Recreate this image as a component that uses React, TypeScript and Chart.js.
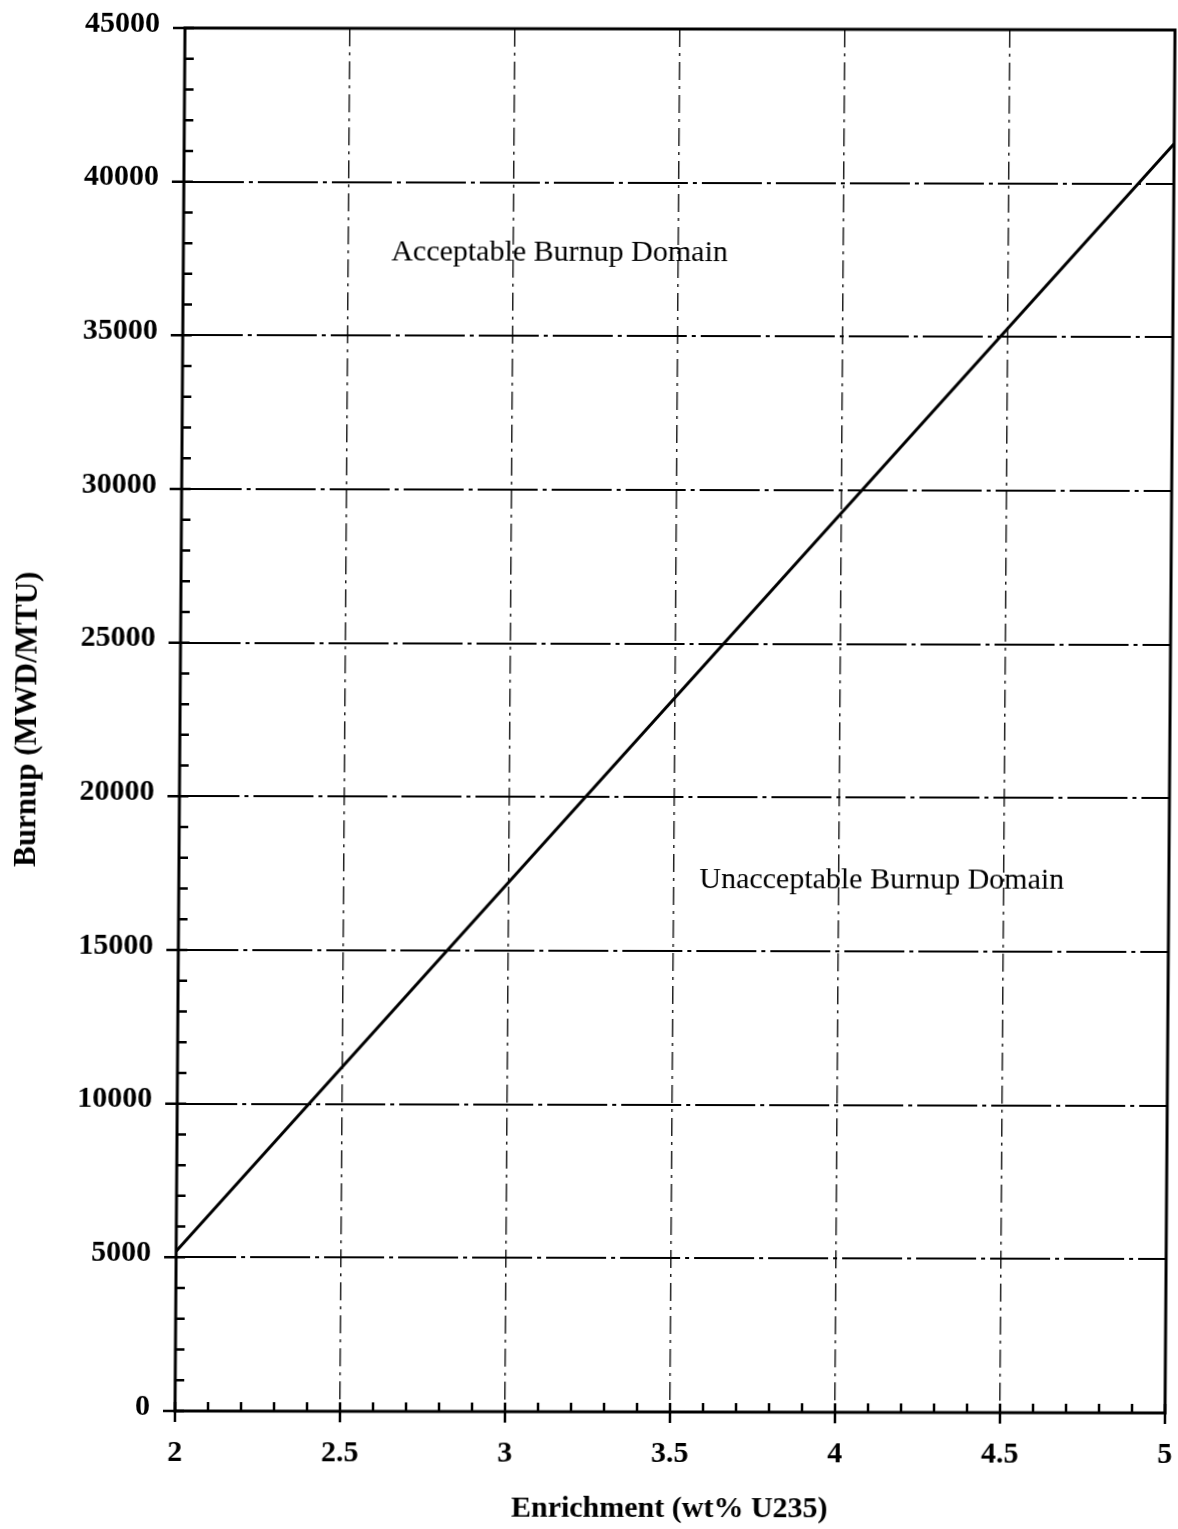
import React, { useEffect, useRef } from 'react';
import { Chart, registerables } from 'chart.js';

Chart.register(...registerables);

// ---- data ----
const enrichment = [2, 5];
const burnup = [5200, 41300];

const xTickValues = [2, 2.5, 3, 3.5, 4, 4.5, 5];
const xTickLabels = ['2', '2.5', '3', '3.5', '4', '4.5', '5'];
const yTickValues = [0, 5000, 10000, 15000, 20000, 25000, 30000, 35000, 40000, 45000];
const yTickLabels = ['0', '5000', '10000', '15000', '20000', '25000', '30000', '35000', '40000', '45000'];
const xMinorStep = 0.1;
const yMinorStep = 1000;

const xTitle = 'Enrichment (wt% U235)';
const yTitle = 'Burnup (MWD/MTU)';

const regionLabels = ['Acceptable Burnup Domain', 'Unacceptable Burnup Domain'];
const regionLabelX = [3.14, 4.13];
const regionLabelY = [37700, 17300];

const FONT = '"Liberation Serif", "Times New Roman", serif';

const framePlugin = {
  id: 'frameTicks',
  afterDraw(chart: any) {
    const { ctx, chartArea: a, scales } = chart;
    const xs = scales.x;
    const ys = scales.y;
    ctx.save();
    ctx.setLineDash([]);
    ctx.strokeStyle = '#000';
    ctx.lineWidth = 3;
    ctx.strokeRect(a.left, a.top, a.right - a.left, a.bottom - a.top);

    ctx.lineWidth = 2.5;
    ctx.beginPath();
    const xMin = xTickValues[0];
    const xMax = xTickValues[xTickValues.length - 1];
    const nx = Math.round((xMax - xMin) / xMinorStep);
    for (let i = 0; i <= nx; i++) {
      const v = xMin + i * xMinorStep;
      const px = xs.getPixelForValue(v);
      const major = i % 5 === 0;
      ctx.moveTo(px, a.bottom - 9);
      ctx.lineTo(px, a.bottom + (major ? 11 : 0));
    }
    const yMin = yTickValues[0];
    const yMax = yTickValues[yTickValues.length - 1];
    const ny = Math.round((yMax - yMin) / yMinorStep);
    for (let i = 0; i <= ny; i++) {
      const v = yMin + i * yMinorStep;
      const py = ys.getPixelForValue(v);
      const major = i % 5 === 0;
      ctx.moveTo(a.left - (major ? 12 : 0), py);
      ctx.lineTo(a.left + 9, py);
    }
    ctx.stroke();

    ctx.fillStyle = '#000';
    ctx.font = `30px ${FONT}`;
    ctx.textAlign = 'center';
    ctx.textBaseline = 'middle';
    regionLabels.forEach((t, i) => {
      ctx.fillText(t, xs.getPixelForValue(regionLabelX[i]), ys.getPixelForValue(regionLabelY[i]));
    });
    ctx.restore();
  },
};

const zeroPadding = (s: any) => {
  s.paddingTop = 0;
  s.paddingBottom = 0;
  s.paddingLeft = 0;
  s.paddingRight = 0;
};

export default function App() {
  const ref = useRef<HTMLCanvasElement | null>(null);

  useEffect(() => {
    if (!ref.current) return;
    const chart = new Chart(ref.current, {
      type: 'line',
      data: {
        datasets: [
          {
            data: enrichment.map((x, i) => ({ x, y: burnup[i] })),
            borderColor: '#000',
            borderWidth: 3,
            pointRadius: 0,
            fill: false,
            tension: 0,
          },
        ],
      },
      options: {
        responsive: false,
        maintainAspectRatio: false,
        animation: false,
        layout: { padding: { left: 0, right: 13, top: 28, bottom: 0 } },
        plugins: { legend: { display: false }, tooltip: { enabled: false } },
        scales: {
          x: {
            type: 'linear',
            min: xTickValues[0],
            max: xTickValues[xTickValues.length - 1],
            afterBuildTicks: (s: any) => {
              s.ticks = xTickValues.map((v) => ({ value: v }));
            },
            ticks: {
              callback: (_v: any, i: number) => xTickLabels[i],
              font: { family: FONT, size: 30, weight: 'bold' },
              color: '#000',
              padding: 24,
              maxRotation: 0,
              autoSkip: false,
            },
            grid: {
              drawTicks: false,
              color: (c: any) => (c.index === 0 || c.index === xTickValues.length - 1 ? 'rgba(0,0,0,0)' : '#222'),
              lineWidth: 1.5,
            },
            border: { display: false, dash: [18, 6, 3, 6] },
            title: {
              display: true,
              text: xTitle,
              color: '#000',
              font: { family: FONT, size: 30, weight: 'bold' },
              padding: { top: 0, bottom: 3 },
            },
            afterFit: (s: any) => {
              s.height = 118;
              zeroPadding(s);
            },
          },
          y: {
            type: 'linear',
            min: yTickValues[0],
            max: yTickValues[yTickValues.length - 1],
            afterBuildTicks: (s: any) => {
              s.ticks = yTickValues.map((v) => ({ value: v }));
            },
            ticks: {
              callback: (_v: any, i: number) => yTickLabels[i],
              font: { family: FONT, size: 30, weight: 'bold' },
              color: '#000',
              padding: 25,
              labelOffset: -4,
              autoSkip: false,
            },
            grid: {
              drawTicks: false,
              color: (c: any) => (c.index === 0 || c.index === yTickValues.length - 1 ? 'rgba(0,0,0,0)' : '#000'),
              lineWidth: 2,
            },
            border: { display: false, dash: [60, 5, 4, 5] },
            title: {
              display: true,
              text: yTitle,
              color: '#000',
              font: { family: FONT, size: 31, weight: 'bold' },
              padding: { top: 4, bottom: 0 },
            },
            afterFit: (s: any) => {
              s.width = 175;
              zeroPadding(s);
            },
          },
        },
      },
      plugins: [framePlugin],
    } as any);
    return () => chart.destroy();
  }, []);

  return (
    <div
      style={{
        position: 'absolute',
        left: 0,
        top: 0,
        width: 1178,
        height: 1529,
        background: '#fff',
        transformOrigin: '175px 1411px',
        transform: 'skewX(-0.414deg) skewY(0.116deg)',
      }}
    >
      <canvas ref={ref} width={1178} height={1529} style={{ display: 'block' }} />
    </div>
  );
}
